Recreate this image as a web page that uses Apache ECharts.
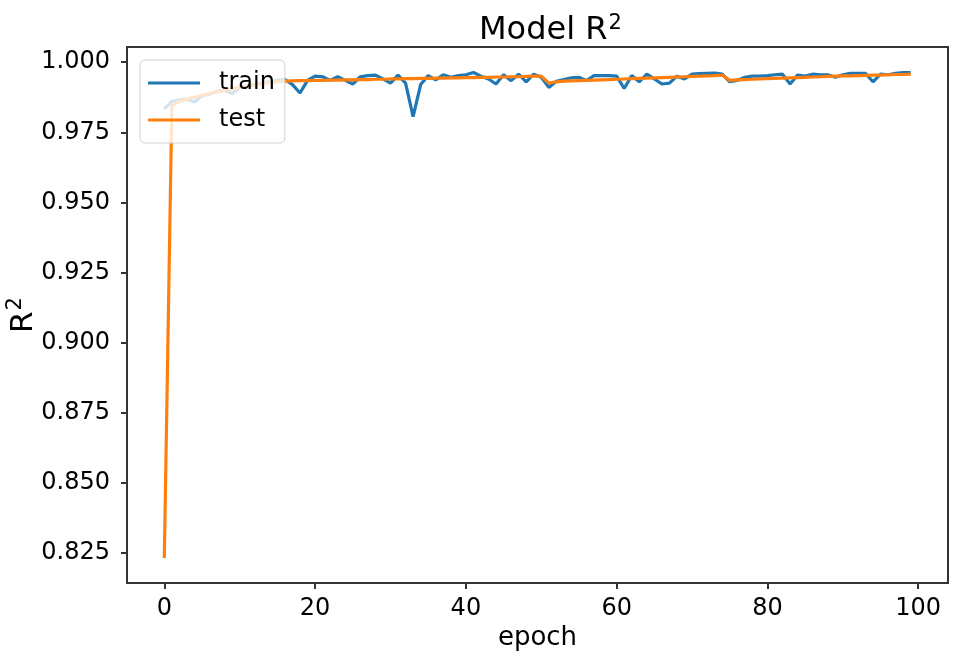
<!DOCTYPE html>
<html>
<head>
<meta charset="utf-8">
<script src="https://cdn.jsdelivr.net/npm/echarts@6/dist/echarts.min.js"></script>
<style>html,body{margin:0;padding:0;background:#fff}#c{width:955px;height:662px}</style>
</head>
<body>
<div id="c"></div>
<script>
const epochs = Array.from({length: 100}, (_, i) => i);
const trainR2 = [
0.9833,0.9860,0.9866,0.9868,0.9858,0.9880,0.9886,0.9896,0.9900,0.9888,
0.9910,0.9915,0.9920,0.9925,0.9930,0.9935,0.9938,0.9920,0.9890,0.9935,
0.9950,0.9948,0.9935,0.9948,0.9935,0.9922,0.9948,0.9952,0.9954,0.9940,
0.9925,0.9954,0.9925,0.9806,0.9920,0.9952,0.9937,0.9955,0.9946,0.9952,
0.9955,0.9963,0.9950,0.9940,0.9922,0.9955,0.9934,0.9957,0.9930,0.9957,
0.9946,0.9910,0.9932,0.9938,0.9944,0.9946,0.9934,0.9952,0.9952,0.9952,
0.9950,0.9906,0.9952,0.9930,0.9957,0.9940,0.9922,0.9925,0.9950,0.9940,
0.9957,0.9959,0.9960,0.9961,0.9957,0.9930,0.9935,0.9946,0.9950,0.9950,
0.9952,0.9955,0.9957,0.9922,0.9954,0.9950,0.9957,0.9955,0.9955,0.9946,
0.9955,0.9960,0.9960,0.9960,0.9930,0.9957,0.9955,0.9960,0.9963,0.9963
];
const testR2 = [
0.8232,0.9845,0.9860,0.9868,0.9875,0.9882,0.9888,0.9894,0.9900,0.9905,
0.9910,0.9915,0.9919,0.9923,0.9927,0.9930,0.9932,0.9933,0.9934,0.9934,
0.9935,0.9935,0.9936,0.9936,0.9937,0.9937,0.9938,0.9938,0.9939,0.9939,
0.9940,0.9940,0.9941,0.9941,0.9942,0.9942,0.9943,0.9943,0.9944,0.9944,
0.9945,0.9945,0.9946,0.9946,0.9947,0.9947,0.9948,0.9948,0.9949,0.9950,
0.9950,0.9925,0.9930,0.9932,0.9933,0.9934,0.9935,0.9936,0.9937,0.9938,
0.9939,0.9940,0.9941,0.9942,0.9943,0.9944,0.9945,0.9946,0.9947,0.9948,
0.9949,0.9950,0.9951,0.9952,0.9954,0.9935,0.9937,0.9938,0.9939,0.9940,
0.9941,0.9942,0.9943,0.9944,0.9945,0.9946,0.9947,0.9948,0.9949,0.9950,
0.9951,0.9951,0.9952,0.9953,0.9954,0.9954,0.9955,0.9956,0.9956,0.9957
];
const xTicks = [0, 20, 40, 60, 80, 100];
const yTicks = [0.825, 0.850, 0.875, 0.900, 0.925, 0.950, 0.975, 1.000];

const FONT = 'DejaVu Sans';
const chart = echarts.init(document.getElementById('c'), null, {renderer: 'canvas'});
const axisCol = '#333';
chart.setOption({
  animation: false,
  backgroundColor: '#fff',
  title: {
    text: '{a|Model R}{s|2}', left: 474, top: 2,
    textStyle: {
      fontFamily: FONT, fontWeight: 'normal', color: '#000',
      rich: {
        a: {fontFamily: FONT, fontSize: 32, lineHeight: 40, color: '#000', verticalAlign: 'bottom'},
        s: {fontFamily: FONT, fontSize: 21, lineHeight: 40, color: '#000', verticalAlign: 'bottom', padding: [0, 0, 13, 1]}
      }
    }
  },
  grid: {left: 127, right: 7, top: 47, bottom: 79, show: true, borderColor: axisCol, borderWidth: 2,
         backgroundColor: 'transparent', outerBoundsMode: 'none', containLabel: false},
  legend: {
    left: 140, top: 60, orient: 'vertical',
    data: ['train', 'test'],
    icon: 'rect', itemWidth: 52, itemHeight: 3, itemGap: 7,
    padding: [8, 10, 8, 8],
    backgroundColor: 'rgba(255,255,255,0.8)', borderColor: '#d0d0d0', borderWidth: 1, borderRadius: 5,
    textStyle: {fontFamily: FONT, fontSize: 24, color: '#000', lineHeight: 30, padding: [0, 0, 0, 14]}
  },
  xAxis: {
    type: 'value', min: -4.95, max: 103.95,
    name: 'epoch', nameLocation: 'middle', nameGap: 42, nameMoveOverlap: false,
    nameTextStyle: {fontFamily: FONT, fontSize: 26, color: '#000'},
    axisLine: {show: true, onZero: false, lineStyle: {color: axisCol, width: 2}},
    axisTick: {show: true, inside: false, length: 6, lineStyle: {color: axisCol, width: 2}, customValues: xTicks},
    axisLabel: {fontFamily: FONT, fontSize: 24, color: '#000', margin: 14, customValues: xTicks, formatter: v => String(v)},
    splitLine: {show: false}
  },
  yAxis: {
    type: 'value', min: 0.8143, max: 1.0054,
    name: '{a|R}{s|2}', nameLocation: 'middle', nameGap: 88, nameRotate: 90, nameMoveOverlap: false,
    nameTextStyle: {
      fontFamily: FONT, fontSize: 31, color: '#000',
      rich: {
        a: {fontFamily: FONT, fontSize: 31, lineHeight: 38, color: '#000', verticalAlign: 'bottom'},
        s: {fontFamily: FONT, fontSize: 21, lineHeight: 38, color: '#000', verticalAlign: 'bottom', padding: [0, 0, 13, 1]}
      }
    },
    axisLine: {show: true, onZero: false, lineStyle: {color: axisCol, width: 2}},
    axisTick: {show: true, inside: false, length: 6, lineStyle: {color: axisCol, width: 2}, customValues: yTicks},
    axisLabel: {fontFamily: FONT, fontSize: 24, color: '#000', margin: 17, customValues: yTicks, formatter: v => v.toFixed(3)},
    splitLine: {show: false}
  },
  series: [
    {name: 'train', type: 'line', data: epochs.map((e, i) => [e, trainR2[i]]), symbol: 'none',
     itemStyle: {color: '#1f77b4'}, lineStyle: {color: '#1f77b4', width: 3.2}},
    {name: 'test', type: 'line', data: epochs.map((e, i) => [e, testR2[i]]), symbol: 'none',
     itemStyle: {color: '#ff7f0e'}, lineStyle: {color: '#ff7f0e', width: 3.2}}
  ]
});
</script>
</body>
</html>
